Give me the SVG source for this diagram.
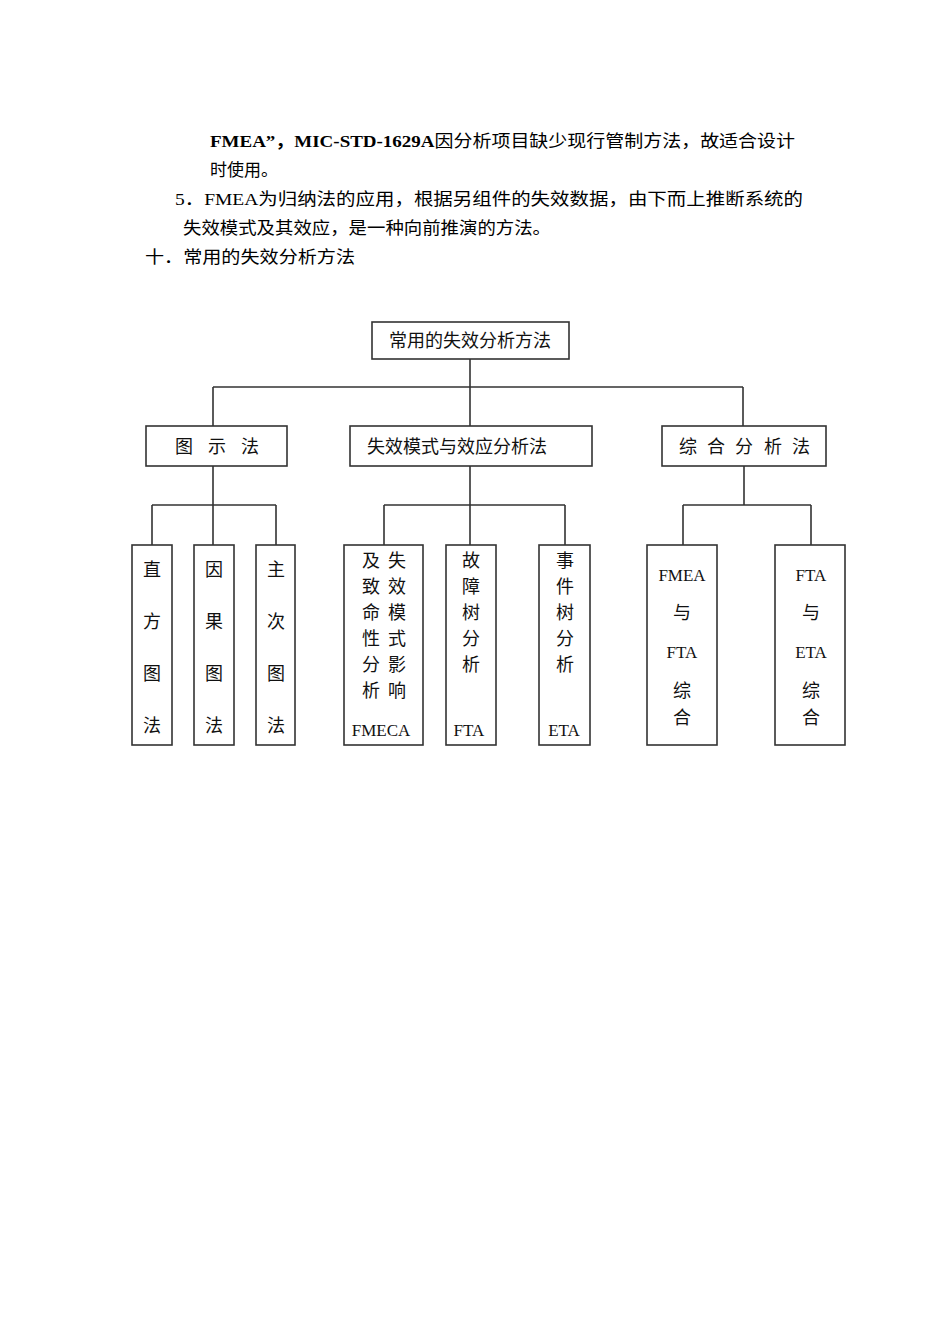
<svg xmlns="http://www.w3.org/2000/svg" width="950" height="1344" viewBox="0 0 950 1344">
<style>
.p{font-family:"Liberation Serif","Noto Sans CJK SC",serif;font-size:17px;fill:#000}
.b{font-weight:bold}
.box{fill:#fff;stroke:#333;stroke-width:1.6}
.t{font-family:"Noto Sans CJK SC","Liberation Sans",sans-serif;font-size:18px;fill:#111;text-anchor:middle}
.l{font-family:"Liberation Serif","Noto Sans CJK SC",serif;font-size:17px;fill:#111;text-anchor:middle}
.c{fill:none;stroke:#333;stroke-width:1.6}
</style>
<rect width="950" height="1344" fill="#fff"/>
<text class="p" x="210" y="147" textLength="585" lengthAdjust="spacingAndGlyphs"><tspan class="b">FMEA”，MIC-STD-1629A</tspan>因分析项目缺少现行管制方法，故适合设计</text>
<text class="p" x="210" y="176">时使用。</text>
<text class="p" x="175" y="205" textLength="628" lengthAdjust="spacingAndGlyphs">5．FMEA为归纳法的应用，根据另组件的失效数据，由下而上推断系统的</text>
<text class="p" x="183" y="234" textLength="368" lengthAdjust="spacingAndGlyphs">失效模式及其效应，是一种向前推演的方法。</text>
<text class="p" x="145" y="263" textLength="210" lengthAdjust="spacingAndGlyphs">十．常用的失效分析方法</text>
<g id="connectors">
<path class="c" d="M470 359V387M213 387H743M213 387V426M470 387V426M743 387V426"/>
<path class="c" d="M213 466V505M152 505H276M152 505V545M213 505V545M276 505V545"/>
<path class="c" d="M470 466V505M384 505H565M384 505V545M470 505V545M565 505V545"/>
<path class="c" d="M744 466V505M683 505H811M683 505V545M811 505V545"/>
</g>
<g id="root"><rect class="box" x="372" y="322" width="197" height="37"/><text class="t" x="470" y="347">常用的失效分析方法</text></g>
<g id="n1"><rect class="box" x="146" y="426" width="141" height="40"/><text class="t" y="453"><tspan x="184">图</tspan><tspan x="217">示</tspan><tspan x="250">法</tspan></text></g>
<g id="n2"><rect class="box" x="350" y="426" width="242" height="40"/><text class="t" x="457" y="453">失效模式与效应分析法</text></g>
<g id="n3"><rect class="box" x="662" y="426" width="164" height="40"/><text class="t" y="453"><tspan x="688">综</tspan><tspan x="716">合</tspan><tspan x="744">分</tspan><tspan x="773">析</tspan><tspan x="801">法</tspan></text></g>
<g id="l1"><rect class="box" x="132" y="545" width="40" height="200"/><text class="t" x="152"><tspan x="152" y="576">直</tspan><tspan x="152" y="628">方</tspan><tspan x="152" y="680">图</tspan><tspan x="152" y="732">法</tspan></text></g>
<g id="l2"><rect class="box" x="194" y="545" width="40" height="200"/><text class="t" x="214"><tspan x="214" y="576">因</tspan><tspan x="214" y="628">果</tspan><tspan x="214" y="680">图</tspan><tspan x="214" y="732">法</tspan></text></g>
<g id="l3"><rect class="box" x="256" y="545" width="39" height="200"/><text class="t" x="276"><tspan x="276" y="576">主</tspan><tspan x="276" y="628">次</tspan><tspan x="276" y="680">图</tspan><tspan x="276" y="732">法</tspan></text></g>
<g id="l4"><rect class="box" x="344" y="545" width="79" height="200"/>
<text class="t"><tspan x="371" y="567">及</tspan><tspan x="371" y="593">致</tspan><tspan x="371" y="619">命</tspan><tspan x="371" y="645">性</tspan><tspan x="371" y="671">分</tspan><tspan x="371" y="697">析</tspan></text>
<text class="t"><tspan x="397" y="567">失</tspan><tspan x="397" y="593">效</tspan><tspan x="397" y="619">模</tspan><tspan x="397" y="645">式</tspan><tspan x="397" y="671">影</tspan><tspan x="397" y="697">响</tspan></text>
<text class="l" x="381" y="736">FMECA</text></g>
<g id="l5"><rect class="box" x="446" y="545" width="50" height="200"/>
<text class="t"><tspan x="471" y="567">故</tspan><tspan x="471" y="593">障</tspan><tspan x="471" y="619">树</tspan><tspan x="471" y="645">分</tspan><tspan x="471" y="671">析</tspan></text>
<text class="l" x="469" y="736">FTA</text></g>
<g id="l6"><rect class="box" x="539" y="545" width="51" height="200"/>
<text class="t"><tspan x="565" y="567">事</tspan><tspan x="565" y="593">件</tspan><tspan x="565" y="619">树</tspan><tspan x="565" y="645">分</tspan><tspan x="565" y="671">析</tspan></text>
<text class="l" x="564" y="736">ETA</text></g>
<g id="l7"><rect class="box" x="647" y="545" width="70" height="200"/>
<text class="l" x="682" y="581">FMEA</text><text class="t" x="682" y="619">与</text><text class="l" x="682" y="658">FTA</text><text class="t" x="682" y="697">综</text><text class="t" x="682" y="724">合</text></g>
<g id="l8"><rect class="box" x="775" y="545" width="70" height="200"/>
<text class="l" x="811" y="581">FTA</text><text class="t" x="811" y="619">与</text><text class="l" x="811" y="658">ETA</text><text class="t" x="811" y="697">综</text><text class="t" x="811" y="724">合</text></g>
</svg>
